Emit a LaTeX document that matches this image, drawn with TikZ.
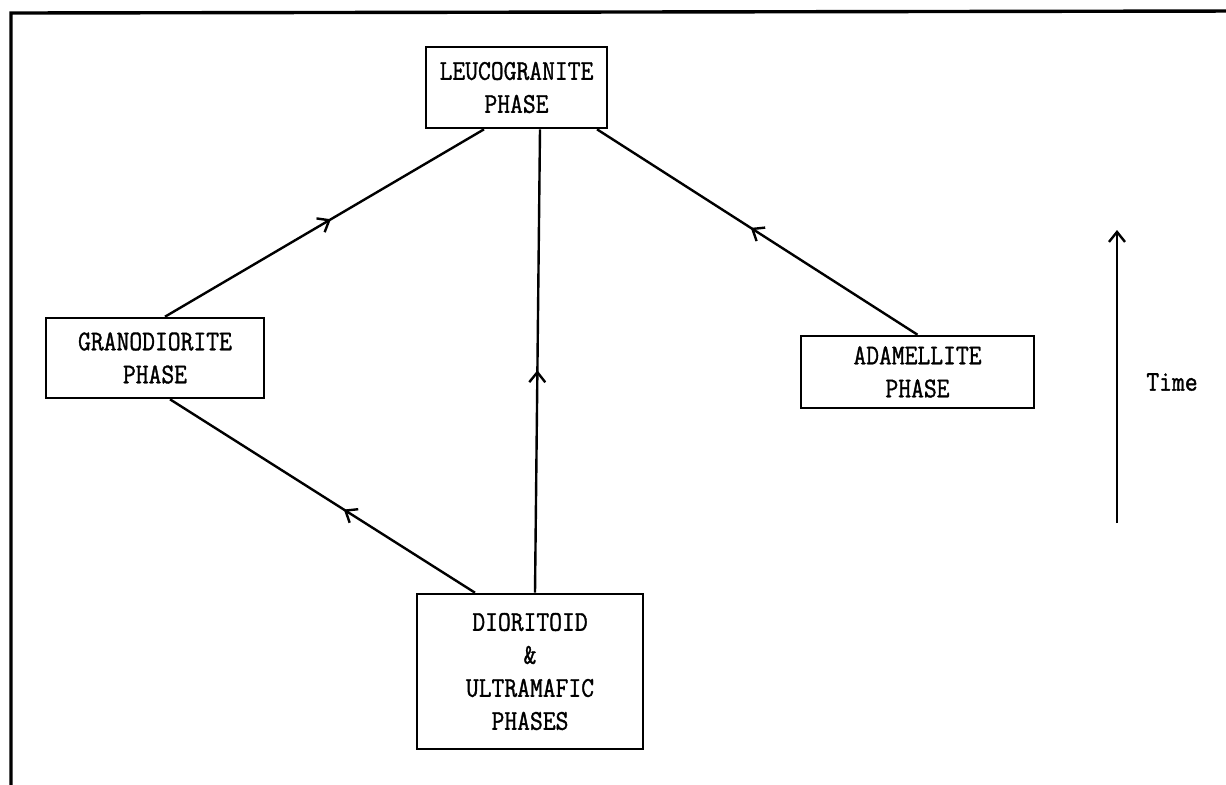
\documentclass[tikz,border=0pt]{standalone}
\usepackage{fontspec}
\usepackage{tikz}
\usetikzlibrary{positioning, arrows.meta, decorations.markings}
\newfontfamily\typefont{Latin Modern Mono}[FakeStretch=0.87, FakeBold=1.2]
\tikzset{
	>={Straight Barb[length=5pt,width=8pt]}, % open v-shaped heads
	phase/.style={draw, line width=1.3pt, align=center, font=\typefont\fontsize{14.3}{16.5}\selectfont, inner sep=2pt}, % the boxes
	link/.style={line width=1.2pt}, % the connectors
	midarrow/.style={postaction={decorate}, decoration={markings, mark=at position #1 with {\arrow{>}}}}, % arrow head half way
}
\begin{document}
\begin{tikzpicture}[x=0.5pt, y=-0.5pt, on grid]
			\useasboundingbox (0,0) rectangle (1226,784);
			% Frame (only top and left show)
			\draw[line width=1.7pt] (11,800) -- (11,13) -- (1240,11);
			
			% Define phases
			\node[phase, minimum width=90.5pt, minimum height=40.5pt] (leu) at (516.5,87.5) {LEUCOGRANITE\\PHASE};
			\node[phase, minimum width=109pt, minimum height=40pt, below left=135.25pt and 180.75pt of leu] (gra) {GRANODIORITE\\PHASE};
			\node[phase, minimum width=116.5pt, minimum height=36pt, below right=142.25pt and 200.5pt of leu] (ada) {ADAMELLITE\\PHASE};
			\node[phase, minimum width=113pt, minimum height=77.5pt, below right=292pt and 6.75pt of leu] (dio) {DIORITOID\\\&\\ULTRAMAFIC\\PHASES};
			
			% Time axis
			\coordinate (tbot) at (1117,523);
			\coordinate (ttop) at (1117,230);
			\node[font=\typefont\fontsize{14.3}{16.5}\selectfont] (time) at (1172,382) {Time};
			
			% Transitions
			\draw[link, midarrow=0.52] ([xshift=5pt]gra.north) -- ([xshift=-16.25pt]leu.south);
			\draw[link, midarrow=0.48] ([xshift=2.5pt]dio.north) -- ([xshift=11.75pt]leu.south);
			\draw[link, midarrow=0.52] (ada.north) -- ([xshift=40.25pt]leu.south);
			\draw[link, midarrow=0.43] ([xshift=-27.5pt]dio.north) -- ([xshift=7.5pt]gra.south);
			\draw[link, ->] (tbot) -- (ttop);
		\end{tikzpicture}
\end{document}
